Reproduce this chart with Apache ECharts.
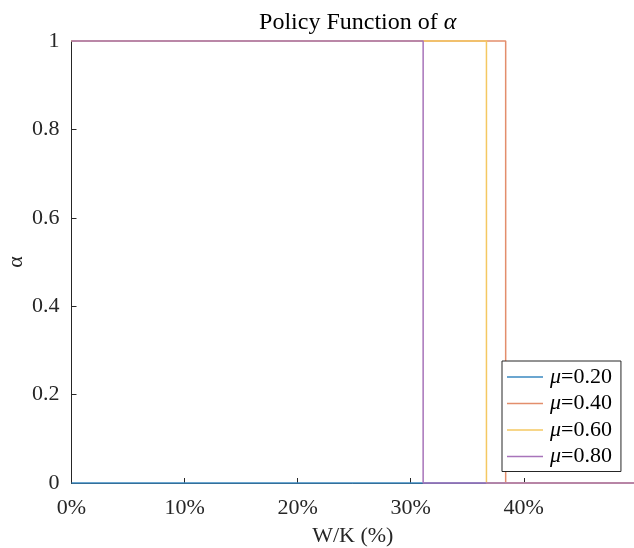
<!DOCTYPE html>
<html>
<head>
<meta charset="utf-8">
<script src="https://cdn.jsdelivr.net/npm/echarts@6/dist/echarts.min.js"></script>
<style>html,body{margin:0;padding:0;background:#fff;}#c{width:634px;height:548px;}</style>
</head>
<body>
<div id="c"></div>
<script>
// Data
var seriesNames = ['μ=0.20', 'μ=0.40', 'μ=0.60', 'μ=0.80'];
var colors = ['#3a88c0', '#e38e6c', '#f4c862', '#a874ba'];
// x (W/K, %) where alpha drops from 1 to 0; null = always 0
var dropX = [null, 38.4, 36.7, 31.1];
var xStart = 0;
var xEnd = 49.75;
var xTicks = [0, 10, 20, 30, 40];
var yTicks = [0, 0.2, 0.4, 0.6, 0.8, 1];
var yAxisName = 'α';

var FONT = "'Liberation Serif','Times New Roman',serif";

function buildData(d) {
  if (d === null) return [[xStart, 0], [xEnd, 0]];
  return [[xStart, 1], [d, 1], [d, 0], [xEnd, 0]];
}

var series = seriesNames.map(function (n, i) {
  return {
    name: n,
    type: 'line',
    data: buildData(dropX[i]),
    symbol: 'none',
    lineStyle: { color: colors[i], width: 1.5 },
    itemStyle: { color: colors[i] },
    animation: false,
    clip: false
  };
});

var chart = echarts.init(document.getElementById('c'));
chart.setOption({
  backgroundColor: '#fff',
  animation: false,
  title: {
    text: 'Policy Function of {a|α}',
    left: 352.7,
    textAlign: 'center',
    top: 6,
    textStyle: {
      fontFamily: FONT, fontSize: 24, fontWeight: 'normal', color: '#000',
      rich: { a: { fontFamily: FONT, fontSize: 24, fontStyle: 'italic', color: '#000' } }
    }
  },
  graphic: [{
    type: 'text',
    x: 16,
    y: 262,
    rotation: Math.PI / 2,
    style: {
      text: yAxisName,
      font: "22px 'Liberation Serif','Times New Roman',serif",
      fill: '#262626',
      align: 'center',
      verticalAlign: 'middle'
    }
  }],
  grid: { left: 71.5, right: 0, top: 41, bottom: 65, containLabel: false, outerBoundsMode: 'none' },
  xAxis: {
    type: 'value',
    min: xStart,
    max: xEnd,
    interval: 10,
    name: 'W/K (%)',
    nameLocation: 'middle',
    nameMoveOverlap: false,
    nameGap: 42,
    nameTextStyle: { fontFamily: FONT, fontSize: 22, color: '#262626' },
    axisLine: { lineStyle: { color: '#262626', width: 1 } },
    axisTick: { inside: true, length: 5, lineStyle: { color: '#262626' } },
    axisLabel: {
      fontFamily: FONT, fontSize: 22, color: '#262626', margin: 14,
      showMaxLabel: false,
      formatter: function (v) { return xTicks.indexOf(v) >= 0 ? v + '%' : ''; }
    },
    splitLine: { show: false }
  },
  yAxis: {
    type: 'value',
    min: 0,
    max: 1,
    interval: 0.2,
    axisLine: { show: true, lineStyle: { color: '#262626', width: 1 } },
    axisTick: { show: true, inside: true, length: 5, lineStyle: { color: '#262626' } },
    axisLabel: {
      fontFamily: FONT, fontSize: 22, color: '#262626', margin: 12,
      formatter: function (v) { return String(Math.round(v * 10) / 10); }
    },
    splitLine: { show: false }
  },
  legend: {
    orient: 'vertical',
    left: 502,
    top: 361,
    backgroundColor: '#fff',
    borderColor: '#262626',
    borderWidth: 1,
    borderRadius: 0,
    padding: [5, 9, 4, 5],
    icon: 'rect',
    itemWidth: 36,
    itemHeight: 1.5,
    itemGap: 4.5,
    data: seriesNames,
    formatter: function (n) { return '{m|μ}' + n.slice(1); },
    textStyle: {
      fontFamily: FONT, fontSize: 22, color: '#000', lineHeight: 20, padding: [0, 0, 0, 2],
      rich: { m: { fontFamily: FONT, fontSize: 22, fontStyle: 'italic', color: '#000', lineHeight: 20 } }
    }
  },
  series: series
});
</script>
</body>
</html>
